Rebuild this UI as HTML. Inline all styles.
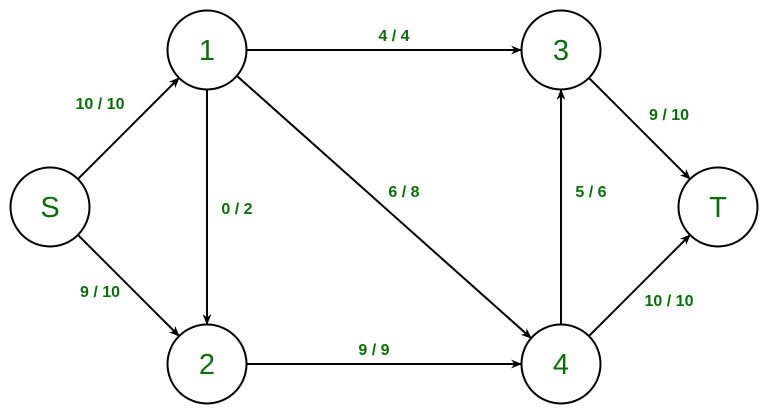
<!DOCTYPE html>
<html><head><style>html,body{margin:0;padding:0;background:#fff}svg{display:block}</style></head>
<body>
<svg width="768" height="415" viewBox="0 0 768 415" xmlns="http://www.w3.org/2000/svg">
<defs>
<marker id="a" viewBox="0 0 10 10" refX="9" refY="5" markerWidth="11" markerHeight="11" markerUnits="userSpaceOnUse" orient="auto">
<path d="M0,1 L10,5 L0,9 L3,5 Z" fill="#000"/>
</marker>
</defs>
<g stroke="#000" stroke-width="2" fill="none">
<line x1="78" y1="179" x2="179" y2="78" marker-end="url(#a)"/>
<line x1="78" y1="235" x2="179" y2="336" marker-end="url(#a)"/>
<line x1="247" y1="50" x2="521" y2="50" marker-end="url(#a)"/>
<line x1="207" y1="90" x2="207" y2="324" marker-end="url(#a)"/>
<line x1="237" y1="76" x2="531" y2="338" marker-end="url(#a)"/>
<line x1="247" y1="364" x2="521" y2="364" marker-end="url(#a)"/>
<line x1="561" y1="324" x2="561" y2="90" marker-end="url(#a)"/>
<line x1="589" y1="78" x2="690" y2="179" marker-end="url(#a)"/>
<line x1="589" y1="336" x2="690" y2="235" marker-end="url(#a)"/>
</g>
<g stroke="#000" stroke-width="2" fill="#fff">
<circle cx="50" cy="207" r="39.5"/>
<circle cx="207" cy="50" r="39.5"/>
<circle cx="561" cy="50" r="39.5"/>
<circle cx="718" cy="207" r="39.5"/>
<circle cx="207" cy="364" r="39.5"/>
<circle cx="561" cy="364" r="39.5"/>
</g>
<g fill="#0b6e0b" font-family="Liberation Sans, sans-serif" font-size="29" text-anchor="middle">
<text x="50" y="217">S</text>
<text x="207" y="60">1</text>
<text x="561" y="60">3</text>
<text x="718" y="217">T</text>
<text x="207" y="374">2</text>
<text x="561" y="374">4</text>
</g>
<g fill="#0b6e0b" font-family="Liberation Sans, sans-serif" font-size="16" font-weight="bold" text-anchor="middle">
<text x="100" y="109">10 / 10</text>
<text x="100" y="297">9 / 10</text>
<text x="394" y="41">4 / 4</text>
<text x="237" y="214">0 / 2</text>
<text x="404" y="197">6 / 8</text>
<text x="374" y="355">9 / 9</text>
<text x="591" y="197">5 / 6</text>
<text x="669" y="120">9 / 10</text>
<text x="669" y="306">10 / 10</text>
</g>
</svg>
</body></html>
